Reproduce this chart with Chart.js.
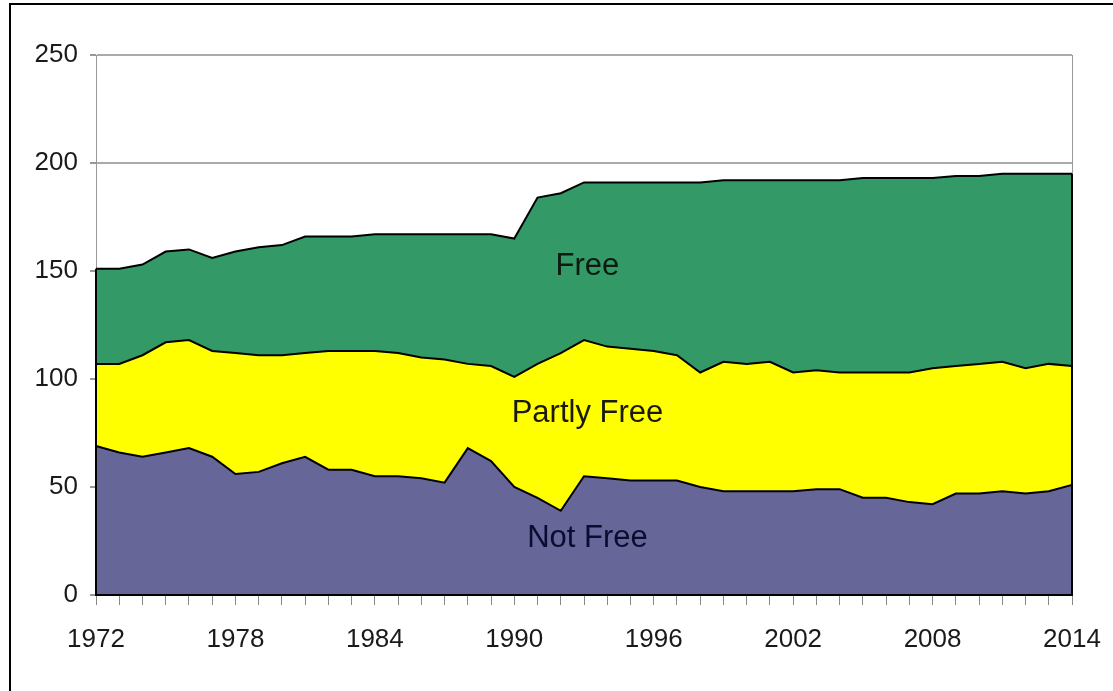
<!DOCTYPE html>
<html>
<head>
<meta charset="utf-8">
<script src="https://cdn.jsdelivr.net/npm/chart.js@4.4.1/dist/chart.umd.min.js"></script>
<style>
  html, body { margin: 0; padding: 0; background: #fff; overflow: hidden; }
  #wrap { position: relative; width: 1113px; height: 691px; }
  #frame { position: absolute; left: 9px; top: 3px; width: 2000px; height: 2000px;
           border-left: 2px solid #000; border-top: 2px solid #000; pointer-events: none; }
</style>
</head>
<body>
<div id="wrap">
  <canvas id="c"></canvas>
  <div id="frame"></div>
</div>
<script>
const years = ['1972','1973','1974','1975','1976','1977','1978','1979','1980','1981',
  '1982','1983','1984','1985','1986','1987','1988','1989','1990','1991','1992','1993',
  '1994','1995','1996','1997','1998','1999','2000','2001','2002','2003','2004','2005',
  '2006','2007','2008','2009','2010','2011','2012','2013','2014'];

const notFree = [69,66,64,66,68,64,56,57,61,64,58,58,55,55,54,52,68,62,50,45,39,55,
  54,53,53,53,50,48,48,48,48,49,49,45,45,43,42,47,47,48,47,48,51];

const partlyFree = [38,41,47,51,50,49,56,54,50,48,55,55,58,57,56,57,39,44,51,62,73,63,
  61,61,60,58,53,60,59,60,55,55,54,58,58,60,63,59,60,60,58,59,55];

const free = [44,44,42,42,42,43,47,50,51,54,53,53,54,55,57,58,60,61,64,77,74,73,
  76,77,78,80,88,84,85,84,89,88,89,90,90,90,88,88,87,87,90,88,89];

const xTickLabels = ['1972','1978','1984','1990','1996','2002','2008','2014'];
const yTickValues = [0,50,100,150,200,250];

const seriesNames = ['Not Free','Partly Free','Free'];

const FONT = "'Liberation Sans', Arial, sans-serif";

const areaLabels = {
  id: 'areaLabels',
  afterDatasetsDraw(chart, args, opts) {
    const {ctx, scales} = chart;
    ctx.save();
    ctx.font = opts.size + 'px ' + FONT;
    ctx.textAlign = 'center';
    ctx.textBaseline = 'middle';
    opts.items.forEach(it => {
      ctx.fillStyle = it.color;
      ctx.fillText(it.text, scales.x.getPixelForValue(years.indexOf(it.x) + (it.dx || 0)), scales.y.getPixelForValue(it.y));
    });
    ctx.restore();
  }
};

const areaEdges = {
  id: 'areaEdges',
  afterDatasetsDraw(chart) {
    const {ctx, scales} = chart;
    const n = years.length;
    const tot = i => notFree[i] + partlyFree[i] + free[i];
    const y0 = scales.y.getPixelForValue(0);
    const xl = scales.x.getPixelForValue(0), xr = scales.x.getPixelForValue(n - 1);
    ctx.save();
    ctx.strokeStyle = '#000';
    ctx.lineWidth = 2;
    ctx.beginPath();
    ctx.moveTo(xl, scales.y.getPixelForValue(tot(0)));
    ctx.lineTo(xl, y0);
    ctx.lineTo(xr, y0);
    ctx.lineTo(xr, scales.y.getPixelForValue(tot(n - 1)));
    ctx.stroke();
    ctx.restore();
  }
};

new Chart(document.getElementById('c'), {
  type: 'line',
  data: {
    labels: years,
    datasets: [
      { label: seriesNames[0], data: notFree, fill: 'origin', backgroundColor: '#666699',
        borderColor: '#000', borderWidth: 2, pointRadius: 0, tension: 0 },
      { label: seriesNames[1], data: partlyFree, fill: '-1', backgroundColor: '#ffff00',
        borderColor: '#000', borderWidth: 2, pointRadius: 0, tension: 0 },
      { label: seriesNames[2], data: free, fill: '-1', backgroundColor: '#339966',
        borderColor: '#000', borderWidth: 2, pointRadius: 0, tension: 0 }
    ]
  },
  options: {
    responsive: true,
    maintainAspectRatio: false,
    animation: false,
    events: [],
    layout: { padding: { left: 0, top: 55, right: 41, bottom: 0 } },
    plugins: {
      legend: { display: false },
      tooltip: { enabled: false },
      areaLabels: {
        size: 31,
        items: [
          { text: 'Free', x: '1993', dx: 0.15, y: 152, color: '#0c1a10' },
          { text: 'Partly Free', x: '1993', dx: 0.15, y: 84, color: '#1a1a0a' },
          { text: 'Not Free', x: '1993', dx: 0.15, y: 26, color: '#0c0c30' }
        ]
      }
    },
    scales: {
      x: {
        stacked: true,
        offset: false,
        afterFit: s => { s.height = 96; s.paddingRight = 0; s.paddingLeft = 0; },
        border: { display: true, color: '#000', width: 2 },
        grid: {
          display: true,
          drawOnChartArea: true,
          tickLength: 10,
          tickColor: '#888',
          color: ctx => (ctx.index === years.length - 1 ? '#999' : 'rgba(0,0,0,0)')
        },
        ticks: {
          autoSkip: false,
          maxRotation: 0,
          padding: 19,
          color: '#1a1a1a',
          font: { family: FONT, size: 26 },
          callback: (v, i) => (xTickLabels.includes(years[i]) ? years[i] : '')
        }
      },
      y: {
        stacked: true,
        min: yTickValues[0],
        max: yTickValues[yTickValues.length - 1],
        afterFit: s => { s.width = 96; s.paddingTop = 0; s.paddingBottom = 0; },
        afterBuildTicks: s => { s.ticks = yTickValues.map(v => ({ value: v })); },
        border: { display: true, color: '#999', width: 1 },
        grid: { color: '#aaa', lineWidth: 2, tickLength: 6, tickColor: '#999' },
        ticks: {
          padding: 12,
          color: '#1a1a1a',
          font: { family: FONT, size: 26 }
        }
      }
    }
  },
  plugins: [areaLabels, areaEdges]
});
</script>
</body>
</html>
